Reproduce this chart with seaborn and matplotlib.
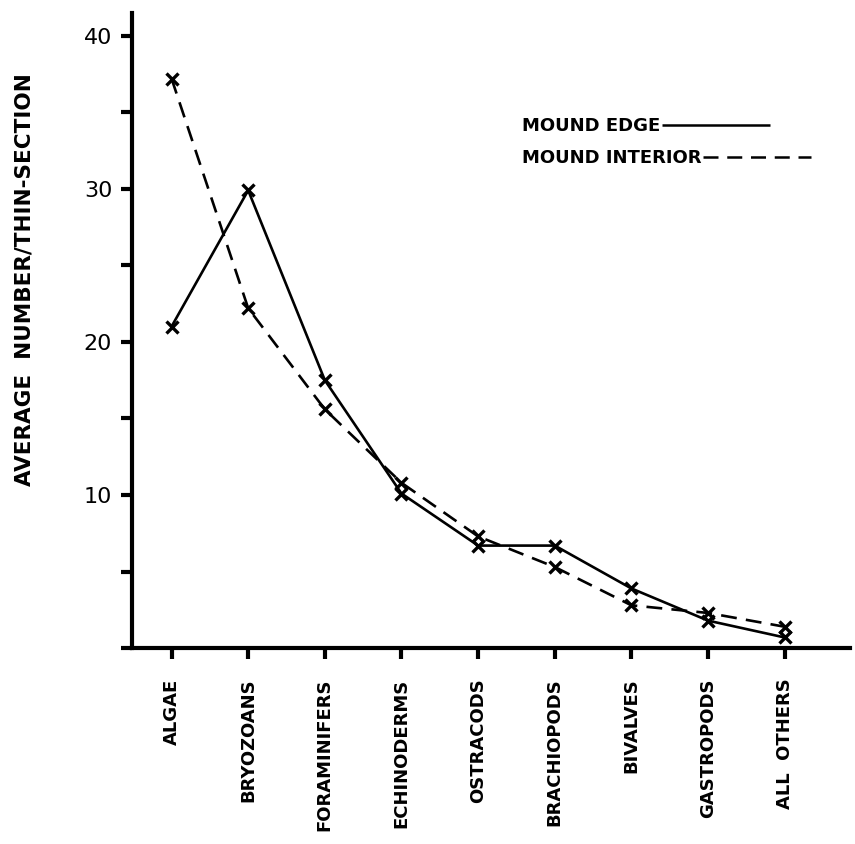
import numpy as np
import pandas as pd
import matplotlib
matplotlib.use('Agg')
import matplotlib.pyplot as plt
import seaborn as sns

categories = ['ALGAE', 'BRYOZOANS', 'FORAMINIFERS', 'ECHINODERMS', 'OSTRACODS',
              'BRACHIOPODS', 'BIVALVES', 'GASTROPODS', 'ALL  OTHERS']
edge = [21.0, 29.9, 17.5, 10.1, 6.7, 6.7, 3.9, 1.8, 0.7]
interior = [37.2, 22.2, 15.6, 10.8, 7.3, 5.3, 2.8, 2.3, 1.4]
ytick_vals = [0, 5, 10, 15, 20, 25, 30, 35, 40]
ytick_labels = ['', '', '10', '', '20', '', '30', '', '40']

pos = np.arange(len(categories))
df = pd.concat([
    pd.DataFrame({'pos': pos, 'value': edge, 'series': 'MOUND EDGE'}),
    pd.DataFrame({'pos': pos, 'value': interior, 'series': 'MOUND INTERIOR'}),
])

sns.set_style('ticks')
plt.rcParams['font.family'] = ['DejaVu Sans']

fig = plt.figure(figsize=(8.55, 8.44), dpi=100)
ax = fig.add_axes([0.154, 0.232, 0.84, 0.753])

sns.lineplot(data=df, x='pos', y='value', hue='series', style='series',
             palette=['black', 'black'], dashes=[(1, 0), (6, 3.5)],
             markers=['x', 'x'], markersize=8, markeredgewidth=2.4,
             markeredgecolor='black', linewidth=1.9, ax=ax, legend=True)

ax.set_xlim(-0.52, 8.85)
ax.set_ylim(0, 41.5)
ax.set_xticks(pos)
ax.set_xticklabels(categories, rotation=90, fontsize=13, fontweight='bold')
ax.set_yticks(ytick_vals)
ax.set_yticklabels(ytick_labels, fontsize=16)
ax.tick_params(axis='both', direction='out', length=8, width=3, color='black',
               labelcolor='black', pad=6)
ax.tick_params(axis='x', pad=14)

for side in ['top', 'right']:
    ax.spines[side].set_visible(False)
for side in ['left', 'bottom']:
    ax.spines[side].set_linewidth(3)
    ax.spines[side].set_color('black')

ax.set_xlabel('')
ax.set_ylabel('AVERAGE  NUMBER/THIN-SECTION', fontsize=15.5, fontweight='bold',
              color='black')
ax.yaxis.set_label_coords(-0.135, 0.58)

leg = ax.legend(loc='upper left', bbox_to_anchor=(0.543, 0.836), frameon=False,
                markerfirst=False, handlelength=6.0, handletextpad=0.1,
                fontsize=13, labelspacing=0.8, borderpad=0, borderaxespad=0)
for line in leg.get_lines():
    line.set_marker('')
    line.set_linewidth(1.8)
for t in leg.get_texts():
    t.set_fontweight('bold')
    t.set_color('black')
# rows left-aligned so each line starts right after its own text
for col in leg._legend_handle_box.get_children():
    col.align = 'left'

fig.savefig('out.png', dpi=100)
